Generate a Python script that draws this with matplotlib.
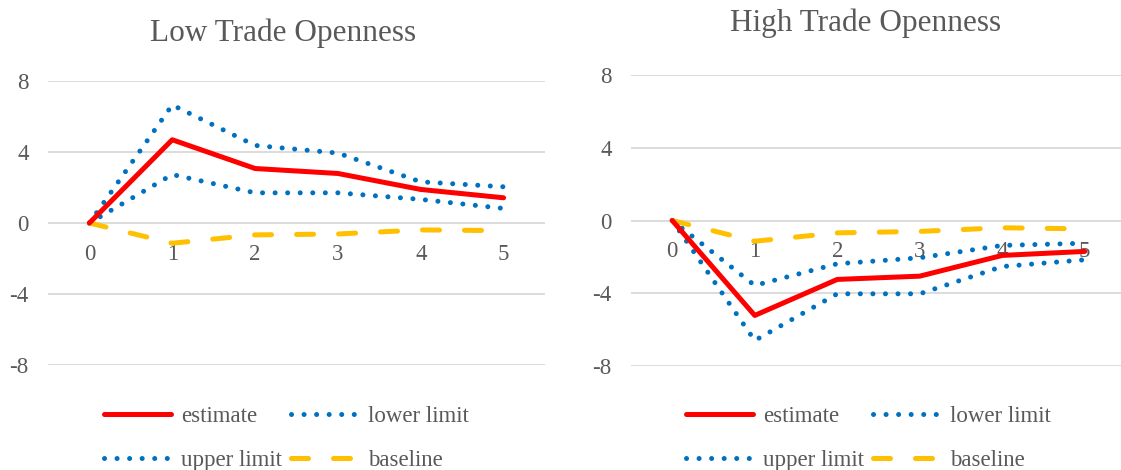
import matplotlib
matplotlib.use('Agg')
import matplotlib.pyplot as plt

plt.rcParams['font.family'] = 'Liberation Serif'
plt.rcParams['axes.unicode_minus'] = False

periods = [0, 1, 2, 3, 4, 5]

# Low trade openness
low_estimate = [0, 4.69, 3.07, 2.79, 1.89, 1.42]
low_upper = [0, 6.65, 4.37, 3.94, 2.32, 2.04]
low_lower = [0, 2.73, 1.70, 1.70, 1.33, 0.82]
low_baseline = [0, -1.14, -0.67, -0.62, -0.39, -0.43]

# High trade openness
high_estimate = [0, -5.22, -3.24, -3.06, -1.92, -1.70]
high_upper = [0, -3.57, -2.38, -2.05, -1.37, -1.25]
high_lower = [0, -6.60, -4.03, -4.03, -2.53, -2.16]
high_baseline = [0, -1.14, -0.68, -0.60, -0.40, -0.46]

y_ticks = [-8, -4, 0, 4, 8]

text_color = '#595959'
grid_color = '#D9D9D9'
red = '#FF0000'
blue = '#0070C0'
gold = '#FFC000'

W, H = 1121, 470
fig = plt.figure(figsize=(W / 100, H / 100), dpi=100)


def panel(rect, title, title_y, est, upper, lower, base):
    x0, y_top, x1, y_bot = rect
    ax = fig.add_axes([x0 / W, (H - y_bot) / H, (x1 - x0) / W, (y_bot - y_top) / H])
    lw = 3.6
    ax.plot(periods, est, color=red, lw=lw, solid_capstyle='round', label='estimate', zorder=4)
    ax.plot(periods, upper, color=blue, lw=lw, linestyle=(0, (0.01, 2.5)),
            dash_capstyle='round', label='upper limit', zorder=3)
    ax.plot(periods, lower, color=blue, lw=lw, linestyle=(0, (0.01, 2.5)),
            dash_capstyle='round', label='lower limit', zorder=3)
    ax.plot(periods, base, color=gold, lw=lw, linestyle=(0, (3.4, 5)),
            dash_capstyle='round', label='baseline', zorder=3)

    ax.set_xlim(-0.5, 5.5)
    ax.set_ylim(-8, 8)
    ax.set_yticks(y_ticks)
    ax.set_xticks(periods)
    ax.yaxis.grid(True, color=grid_color, lw=1.3)
    ax.set_axisbelow(True)
    for s in ['top', 'right', 'left']:
        ax.spines[s].set_visible(False)
    ax.spines['bottom'].set_position(('data', 0))
    ax.spines['bottom'].set_visible(False)
    ax.tick_params(axis='both', length=0, colors=text_color, labelsize=16.5)
    ax.tick_params(axis='y', pad=14)
    ax.tick_params(axis='x', pad=15)

    fig.text(((x0 + x1) / 2 - 13) / W, 1 - (title_y + 1) / H, title, ha='center', va='center',
             fontsize=22.5, color=text_color)

    handles, labels = ax.get_legend_handles_labels()
    leg = fig.legend(handles, labels,
                     loc='center', bbox_to_anchor=(((x0 + x1) / 2 - 10) / W, 1 - 438.5 / H),
                     ncol=2, frameon=False, fontsize=16.5, handlelength=2.9,
                     handletextpad=0.45, columnspacing=0.4, labelspacing=0.97)
    for t in leg.get_texts():
        t.set_color(text_color)
    return ax


panel((48, 81, 545, 365), 'Low Trade Openness', 32,
      low_estimate, low_upper, low_lower, low_baseline)
panel((631, 75, 1126, 366), 'High Trade Openness', 22,
      high_estimate, high_upper, high_lower, high_baseline)

fig.savefig('out.png', dpi=100)
